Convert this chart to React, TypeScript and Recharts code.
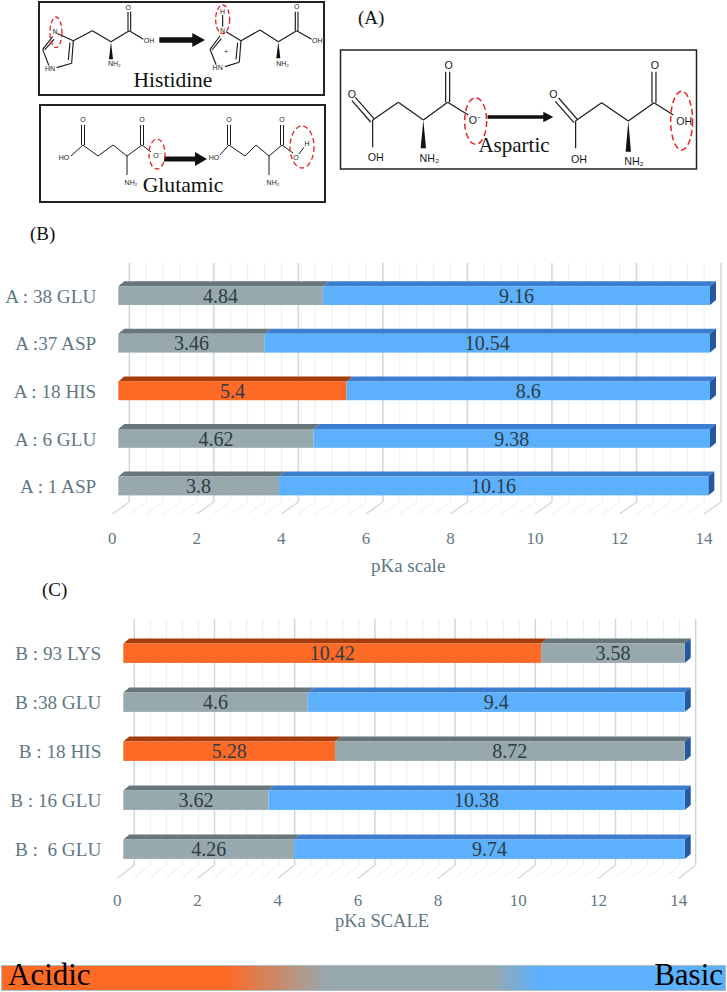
import { BarChart, Bar, XAxis, YAxis, LabelList, ReferenceLine } from 'recharts'

const SERIF = '"Liberation Serif", serif'
const SANS = '"Liberation Sans", sans-serif'

// panel B
const labelsB = ['A : 38 GLU', 'A :37 ASP', 'A : 18 HIS', 'A : 6 GLU', 'A : 1 ASP']
const acidB = [4.84, 3.46, 5.4, 4.62, 3.8]
const baseB = [9.16, 10.54, 8.6, 9.38, 10.16]
const acidToneB = ['neutral', 'neutral', 'acidic', 'neutral', 'neutral']
const baseToneB = ['basic', 'basic', 'basic', 'basic', 'basic']

// panel C
const labelsC = ['B : 93 LYS', 'B :38 GLU', 'B : 18 HIS', 'B : 16 GLU', 'B : \u00a06 GLU']
const acidC = [10.42, 4.6, 5.28, 3.62, 4.26]
const baseC = [3.58, 9.4, 8.72, 10.38, 9.74]
const acidToneC = ['acidic', 'neutral', 'acidic', 'neutral', 'neutral']
const baseToneC = ['neutral', 'basic', 'neutral', 'basic', 'basic']

const axisTicks = [0, 2, 4, 6, 8, 10, 12, 14]
const gridValues = Array.from({ length: 36 }, (_, i) => (i * 2) / 5)

const tones: any = {
  neutral: { front: '#97a9ad', top: '#66767a' },
  acidic: { front: '#fd6a25', top: '#a63c0c' },
  basic: { front: '#5cb0fc', top: '#3c7dcf' },
}

const makeRows = (labels: string[], acid: number[], base: number[], acidTone: string[], baseTone: string[]) =>
  labels.map((label, i) => ({ label, acid: acid[i], base: base[i], acidTone: acidTone[i], baseTone: baseTone[i] }))

const Box = ({ x, y, width, height, tone, side }: any) => {
  const dx = 6
  const dy = 5
  const t = tones[tone]
  return (
    <g>
      <polygon points={`${x},${y} ${x + dx},${y - dy} ${x + width + dx},${y - dy} ${x + width},${y}`} fill={t.top} />
      {side && (
        <polygon
          points={`${x + width},${y} ${x + width + dx},${y - dy} ${x + width + dx},${y + height - dy} ${x + width},${y + height}`}
          fill="#25589f"
        />
      )}
      <rect x={x} y={y} width={width} height={height} fill={t.front} />
    </g>
  )
}

function PkaChart({ rows, top, height, left, right, plotTop, plotBottom, barSize, wallTop, wallBottom, floorBottom, title, titleSize, titleDx, titleOffset, tickMargin }: any) {
  const wall = (major: boolean) => (p: any) => (
    <g>
      <line x1={p.x1 + 11} x2={p.x1 + 11} y1={wallTop} y2={wallBottom} stroke={major ? '#ccd8df' : '#e8eff5'} strokeWidth={major ? 1.5 : 1} />
      <line x1={p.x1 + 11} x2={p.x1 - 6} y1={wallBottom} y2={floorBottom} stroke={major ? '#ccd8df' : '#e8eff5'} strokeWidth={major ? 1.3 : 1} />
    </g>
  )
  return (
    <div style={{ position: 'absolute', left: 0, top }}>
      <BarChart
        width={727}
        height={height}
        data={rows}
        layout="vertical"
        barSize={barSize}
        margin={{ top: plotTop, right: 727 - right, left: left - 110, bottom: height - plotBottom - 60 }}
      >
        <XAxis
          type="number"
          domain={[0, 14]}
          ticks={axisTicks}
          interval={0}
          height={60}
          axisLine={false}
          tickLine={false}
          tickMargin={tickMargin}
          tick={{ fill: '#5f7782', fontSize: 17, fontFamily: SERIF, dx: -6 }}
          label={{ value: title, position: 'insideBottom', offset: titleOffset, dx: titleDx, fill: '#5f7782', fontSize: titleSize, fontFamily: SERIF }}
        />
        <YAxis
          type="category"
          dataKey="label"
          width={110}
          interval={0}
          axisLine={false}
          tickLine={false}
          tick={{ fill: '#5f7782', fontSize: 19.2, fontFamily: SERIF, dx: -14 }}
        />
        {gridValues.map((v, i) => (
          <ReferenceLine key={v} x={v} shape={wall(i % 5 === 0)} zIndex={-50} />
        ))}
        <Bar dataKey="acid" stackId="pka" isAnimationActive={false} shape={(p: any) => <Box {...p} tone={p.payload.acidTone} />}>
          <LabelList dataKey="acid" position="center" fill="#2e3d45" fontSize={20} fontFamily={SERIF} />
        </Bar>
        <Bar dataKey="base" stackId="pka" isAnimationActive={false} shape={(p: any) => <Box {...p} tone={p.payload.baseTone} side />}>
          <LabelList dataKey="base" position="center" fill="#2e3d45" fontSize={20} fontFamily={SERIF} />
        </Bar>
      </BarChart>
    </div>
  )
}

// structural formulas, each in its own drawing units
const Bonds = ({ segs, width }: any) => (
  <g stroke="#1a1a1a" strokeWidth={width} fill="none">
    {segs.map((s: number[], i: number) => (
      <line key={i} x1={s[0]} y1={s[1]} x2={s[2]} y2={s[3]} />
    ))}
  </g>
)

const Atoms = ({ items, size }: any) => (
  <g fontFamily={SANS} fontSize={size} fill="#1a1a1a" textAnchor="middle" dominantBaseline="central">
    {items.map((a: any[], i: number) => (
      <text key={i} x={a[1]} y={a[2]} stroke="#fff" strokeWidth={3} paintOrder="stroke">
        {a[0]}
      </text>
    ))}
  </g>
)

const Ring = ({ cx, cy, rx, ry, w = 1.3, dash = '5 3' }: any) => (
  <ellipse cx={cx} cy={cy} rx={rx} ry={ry} fill="none" stroke="#e8212b" strokeWidth={w} strokeDasharray={dash} />
)

const Wedge = ({ x, y1, y2, w }: any) => <polygon points={`${x},${y1} ${x - w},${y2} ${x + w},${y2}`} fill="#111" />

const Arrow = ({ x1, x2, y, t, head, hh }: any) => (
  <polygon
    points={`${x1},${y - t} ${x2 - head},${y - t} ${x2 - head},${y - hh} ${x2},${y} ${x2 - head},${y + hh} ${x2 - head},${y + t} ${x1},${y + t}`}
    fill="#111"
  />
)

const histidineSegs = [
  [70, 95, 130, 122], [130, 122, 125, 190], [120, 128, 115, 180], [125, 190, 80, 203], [58, 200, 38, 148], [38, 148, 68, 110], [44, 150, 72, 118],
  [130, 122, 187, 92], [187, 92, 243, 125], [243, 125, 298, 92], [294, 92, 294, 35], [302, 92, 302, 35], [298, 92, 340, 118],
  [588, 95, 633, 122], [633, 122, 628, 187], [623, 128, 618, 178], [628, 187, 585, 200], [560, 198, 540, 148], [540, 148, 570, 108], [546, 150, 574, 116],
  [633, 122, 690, 90], [690, 90, 745, 125], [745, 125, 800, 92], [796, 92, 796, 35], [804, 92, 804, 35], [800, 92, 845, 118], [578, 45, 578, 80],
]
const histidineAtoms = [
  ['N', 75, 95], ['O', 295, 22], ['OH', 357, 123], ['HN', 60, 205], ['NH₂', 253, 192],
  ['N', 578, 92], ['H', 578, 35], ['O', 800, 20], ['OH', 862, 122], ['HN', 563, 203], ['NH₂', 758, 190], ['+', 588, 155],
]

const glutamicSegs = [
  [71, 156, 83, 145], [81.5, 145, 81.5, 125], [84.5, 145, 84.5, 125], [83, 145, 98, 156], [98, 156, 113, 145], [113, 145, 127, 156], [127, 156, 142, 145],
  [140.5, 145, 140.5, 125], [143.5, 145, 143.5, 125], [142, 145, 151, 152], [127, 156, 127, 175],
  [219, 156, 229, 145], [227.5, 145, 227.5, 125], [230.5, 145, 230.5, 125], [229, 145, 245, 156], [245, 156, 256, 145], [256, 145, 269, 156], [269, 156, 282, 145],
  [280.5, 145, 280.5, 125], [283.5, 145, 283.5, 125], [282, 145, 293, 153], [269, 156, 269, 175], [299, 154, 305, 146],
]
const glutamicAtoms = [
  ['HO', 64, 157], ['O', 83, 119], ['O', 142, 119], ['NH₂', 131, 182], ['O⁻', 157, 155],
  ['HO', 214, 157], ['O', 229, 119], ['O', 282, 119], ['NH₂', 273, 182], ['O', 296, 157], ['H', 307, 143],
]

const asparticSegs = [
  [36, 122, 92, 186], [46, 112, 102, 176], [98, 180, 98, 262], [98, 180, 175, 127], [175, 127, 250, 180], [250, 180, 323, 127], [317, 127, 317, 35], [329, 127, 329, 35], [323, 127, 385, 165],
  [646, 124, 702, 188], [656, 114, 712, 178], [707, 182, 707, 265], [707, 182, 785, 128], [785, 128, 865, 183], [865, 183, 942, 128], [936, 128, 936, 35], [948, 128, 948, 35], [942, 128, 1000, 165],
]
const asparticAtoms = [
  ['O', 36, 103], ['OH', 107, 292], ['NH₂', 268, 295], ['O', 326, 15], ['O⁻', 405, 180],
  ['O', 640, 103], ['OH', 717, 298], ['NH₂', 882, 302], ['O', 945, 15], ['OH', 1033, 183],
]

const Structures = () => (
  <svg width={727} height={210} style={{ position: 'absolute', left: 0, top: 0 }}>
    <rect x={39} y={2} width={285} height={93} fill="none" stroke="#222" strokeWidth={2} />
    <rect x={40} y={105} width={285} height={97} fill="none" stroke="#222" strokeWidth={2} />
    <rect x={340.5} y={50} width={356} height={119} fill="none" stroke="#222" strokeWidth={1.5} />

    <g transform="translate(30,0) scale(0.3333)">
      <Bonds segs={histidineSegs} width={3.4} />
      <Wedge x={243} y1={125} y2={178} w={6} />
      <Wedge x={745} y1={125} y2={175} w={6} />
      <Atoms items={histidineAtoms} size={21} />
      <Arrow x1={388} x2={525} y={120} t={8} head={38} hh={21} />
      <Ring cx={78} cy={97} rx={18} ry={46} w={4} dash="14 8" />
      <Ring cx={578} cy={58} rx={21} ry={43} w={4} dash="14 8" />
    </g>
    <text x={173} y={87} textAnchor="middle" fontFamily={SERIF} fontSize={21.5} fill="#111">Histidine</text>

    <Bonds segs={glutamicSegs} width={1} />
    <Atoms items={glutamicAtoms} size={7} />
    <Arrow x1={164} x2={207} y={159} t={2.5} head={12} hh={7} />
    <Ring cx={157} cy={154} rx={8} ry={15} />
    <Ring cx={302} cy={147} rx={12} ry={21} />
    <text x={183} y={192} textAnchor="middle" fontFamily={SERIF} fontSize={21.7} fill="#111">Glutamic</text>

    <g transform="translate(340,60) scale(0.3333)">
      <Bonds segs={asparticSegs} width={3.6} />
      <Wedge x={250} y1={180} y2={265} w={8} />
      <Wedge x={865} y1={183} y2={275} w={8} />
      <Atoms items={asparticAtoms} size={32} />
      <Arrow x1={443} x2={640} y={171} t={5} head={30} hh={16} />
      <Ring cx={407} cy={183} rx={33} ry={70} w={4.5} dash="18 10" />
      <Ring cx={1025} cy={182} rx={33} ry={88} w={4.5} dash="18 10" />
    </g>
    <text x={514} y={152} textAnchor="middle" fontFamily={SERIF} fontSize={21} fill="#111">Aspartic</text>

    <text x={358} y={24} fontFamily={SERIF} fontSize={19} fill="#111">(A)</text>
  </svg>
)

export default function App() {
  const rowsB = makeRows(labelsB, acidB, baseB, acidToneB, baseToneB)
  const rowsC = makeRows(labelsC, acidC, baseC, acidToneC, baseToneC)
  return (
    <div style={{ position: 'absolute', left: 0, top: 0, width: 727, height: 992, overflow: 'hidden', background: '#fff', fontFamily: SERIF }}>
      <Structures />
      <div style={{ position: 'absolute', left: 30, top: 223, fontSize: 19, color: '#111' }}>(B)</div>
      <PkaChart
        rows={rowsB}
        top={250}
        height={340}
        left={118.3}
        right={710}
        plotTop={22.2}
        plotBottom={260.2}
        barSize={18.8}
        wallTop={13}
        wallBottom={252}
        floorBottom={264}
        title="pKa scale"
        titleSize={19}
        titleDx={-6}
        titleOffset={-2}
        tickMargin={16}
      />
      <div style={{ position: 'absolute', left: 42, top: 579, fontSize: 19, color: '#111' }}>(C)</div>
      <PkaChart
        rows={rowsC}
        top={610}
        height={330}
        left={123.3}
        right={684.7}
        plotTop={18.5}
        plotBottom={263.5}
        barSize={19.4}
        wallTop={9}
        wallBottom={255}
        floorBottom={268.5}
        title="pKa SCALE"
        titleSize={18.5}
        titleDx={-22}
        titleOffset={7}
        tickMargin={14}
      />
      <div
        style={{
          position: 'absolute',
          left: 1,
          top: 965,
          width: 723,
          height: 24,
          border: '1px solid #a9bcc4',
          background: 'linear-gradient(90deg, #fd6a25 0%, #fd6a25 31%, #97a9ad 45%, #97a9ad 68%, #5cb0fc 74%, #5cb0fc 100%)',
        }}
      >
        <span style={{ position: 'absolute', left: 6, top: -4, fontSize: 31, lineHeight: '26px', color: '#000' }}>Acidic</span>
        <span style={{ position: 'absolute', right: 2, top: -4, fontSize: 31, lineHeight: '26px', color: '#000' }}>Basic</span>
      </div>
    </div>
  )
}
